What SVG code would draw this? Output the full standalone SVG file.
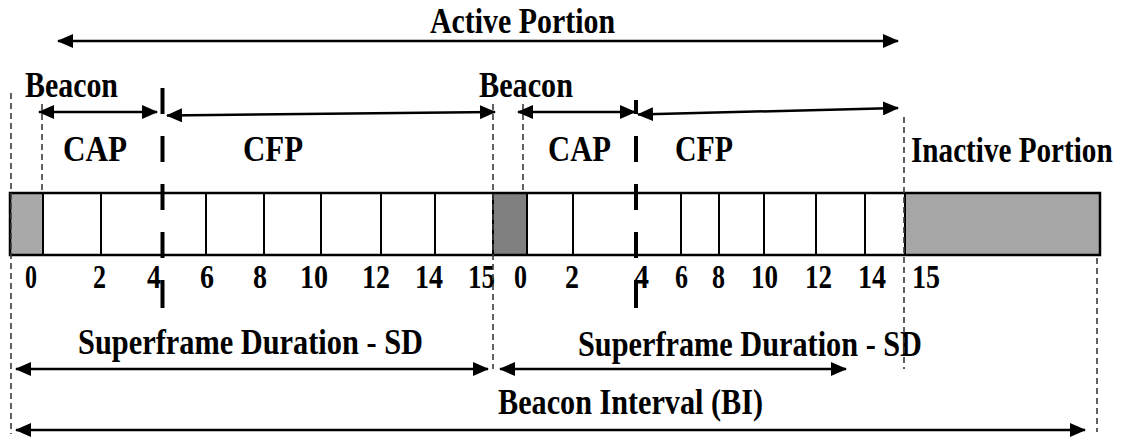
<svg xmlns="http://www.w3.org/2000/svg" width="1128" height="441" viewBox="0 0 1128 441">
  <style>
    .lbl { font-family: "Liberation Serif", "Times New Roman", serif; font-weight: bold; font-size: 36px; fill: #000; }
    .num { font-family: "Liberation Serif", "Times New Roman", serif; font-weight: bold; font-size: 33px; fill: #000; }
    .arrow { stroke: #000; stroke-width: 2.5; fill: none; marker-start: url(#head); marker-end: url(#head); }
    .guide { stroke: #3a3a3a; stroke-width: 1.6; stroke-dasharray: 6 4; fill: none; }
    .split { stroke: #000; stroke-width: 4; fill: none; }
    .cell { stroke: #000; stroke-width: 2; fill: none; }
  </style>
  <defs>
    <marker id="head" viewBox="0 0 16 14" markerWidth="16" markerHeight="14" refX="15" refY="7" orient="auto-start-reverse" markerUnits="userSpaceOnUse">
      <path d="M0,0 L16,7 L0,14 z" fill="#000"/>
    </marker>
  </defs>

  <rect width="1128" height="441" fill="#fff"/>

  <!-- superframe bar -->
  <g id="bar">
    <rect x="10" y="193" width="1090" height="62" fill="#fff"/>
    <rect x="10" y="193" width="33" height="62" fill="#a9a9a9"/>
    <rect x="493" y="193" width="34" height="62" fill="#808080"/>
    <rect x="905" y="193" width="195" height="62" fill="#a6a6a6"/>
    <path class="cell" d="M43 193V255 M101 193V255 M206 193V255 M264 193V255 M321 193V255 M381 193V255 M435 193V255 M493 193V255 M527 193V255 M573 193V255 M681 193V255 M719 193V255 M764 193V255 M816 193V255 M865 193V255 M905 193V255"/>
    <rect x="10" y="193" width="1090" height="62" fill="none" stroke="#000" stroke-width="2.5"/>
  </g>

  <!-- CAP / CFP boundaries -->
  <g id="cap-cfp-boundaries">
    <path class="split" d="M162.5 88V114 M162.5 136V162 M162.5 184V210 M162.5 232V258 M162.5 280V308"/>
    <path class="split" d="M636 100V114 M636 136V162 M636 184V210 M636 232V258 M636 280V308"/>
  </g>

  <!-- slot numbers -->
  <g id="slot-numbers">
    <text class="num" x="25" y="288" textLength="12" lengthAdjust="spacingAndGlyphs">0</text>
    <text class="num" x="93" y="288" textLength="13" lengthAdjust="spacingAndGlyphs">2</text>
    <text class="num" x="147" y="288" textLength="14" lengthAdjust="spacingAndGlyphs">4</text>
    <text class="num" x="200" y="288" textLength="14" lengthAdjust="spacingAndGlyphs">6</text>
    <text class="num" x="253" y="288" textLength="14" lengthAdjust="spacingAndGlyphs">8</text>
    <text class="num" x="300" y="288" textLength="28" lengthAdjust="spacingAndGlyphs">10</text>
    <text class="num" x="362" y="288" textLength="28" lengthAdjust="spacingAndGlyphs">12</text>
    <text class="num" x="415" y="288" textLength="28" lengthAdjust="spacingAndGlyphs">14</text>
    <text class="num" x="468" y="288" textLength="27" lengthAdjust="spacingAndGlyphs">15</text>
    <text class="num" x="514" y="288" textLength="13" lengthAdjust="spacingAndGlyphs">0</text>
    <text class="num" x="565" y="288" textLength="14" lengthAdjust="spacingAndGlyphs">2</text>
    <text class="num" x="634" y="288" textLength="15" lengthAdjust="spacingAndGlyphs">4</text>
    <text class="num" x="675" y="288" textLength="13" lengthAdjust="spacingAndGlyphs">6</text>
    <text class="num" x="712" y="288" textLength="13" lengthAdjust="spacingAndGlyphs">8</text>
    <text class="num" x="751" y="288" textLength="27" lengthAdjust="spacingAndGlyphs">10</text>
    <text class="num" x="805" y="288" textLength="27" lengthAdjust="spacingAndGlyphs">12</text>
    <text class="num" x="858" y="288" textLength="28" lengthAdjust="spacingAndGlyphs">14</text>
    <text class="num" x="912" y="288" textLength="28" lengthAdjust="spacingAndGlyphs">15</text>
  </g>

  <!-- labels -->
  <g id="active-portion"><text class="lbl" x="430" y="33" textLength="185" lengthAdjust="spacingAndGlyphs">Active Portion</text></g>
  <g id="beacon-1"><text class="lbl" x="25" y="97" textLength="93" lengthAdjust="spacingAndGlyphs">Beacon</text></g>
  <g id="beacon-2"><text class="lbl" x="479" y="97" textLength="94" lengthAdjust="spacingAndGlyphs">Beacon</text></g>
  <g id="cap-1"><text class="lbl" x="63" y="161" textLength="64" lengthAdjust="spacingAndGlyphs">CAP</text></g>
  <g id="cfp-1"><text class="lbl" x="243" y="161" textLength="60" lengthAdjust="spacingAndGlyphs">CFP</text></g>
  <g id="cap-2"><text class="lbl" x="548" y="161" textLength="63" lengthAdjust="spacingAndGlyphs">CAP</text></g>
  <g id="cfp-2"><text class="lbl" x="675" y="161" textLength="58" lengthAdjust="spacingAndGlyphs">CFP</text></g>
  <g id="inactive-portion"><text class="lbl" transform="translate(911 162) scale(0.81 1)">Inactive Portion</text></g>
  <g id="sd-1"><text class="lbl" x="78" y="354" textLength="345" lengthAdjust="spacingAndGlyphs">Superframe Duration - SD</text></g>
  <g id="sd-2"><text class="lbl" x="578" y="356" textLength="344" lengthAdjust="spacingAndGlyphs">Superframe Duration - SD</text></g>
  <g id="beacon-interval"><text class="lbl" x="498" y="414" textLength="265" lengthAdjust="spacingAndGlyphs">Beacon Interval (BI)</text></g>

  <!-- guide lines and span arrows -->
  <g id="connectors">
    <path class="guide" d="M11 93V434"/>
    <path class="guide" d="M42 104V193"/>
    <path class="guide" d="M493 104V369"/>
    <path class="guide" d="M523 104V193"/>
    <path class="guide" d="M904 117V369"/>
    <path class="guide" d="M1097 258V432"/>

    <line class="arrow" x1="58" y1="41" x2="898" y2="41"/>
    <line class="arrow" x1="39" y1="112" x2="157" y2="112"/>
    <line class="arrow" x1="167" y1="115.5" x2="495" y2="112"/>
    <line class="arrow" x1="518" y1="112" x2="635" y2="112"/>
    <line class="arrow" x1="638" y1="114.5" x2="898" y2="108"/>
    <line class="arrow" x1="16" y1="369" x2="488" y2="369"/>
    <line class="arrow" x1="500" y1="369" x2="846" y2="369"/>
    <line class="arrow" x1="16" y1="430" x2="1085" y2="430"/>
  </g>
</svg>
